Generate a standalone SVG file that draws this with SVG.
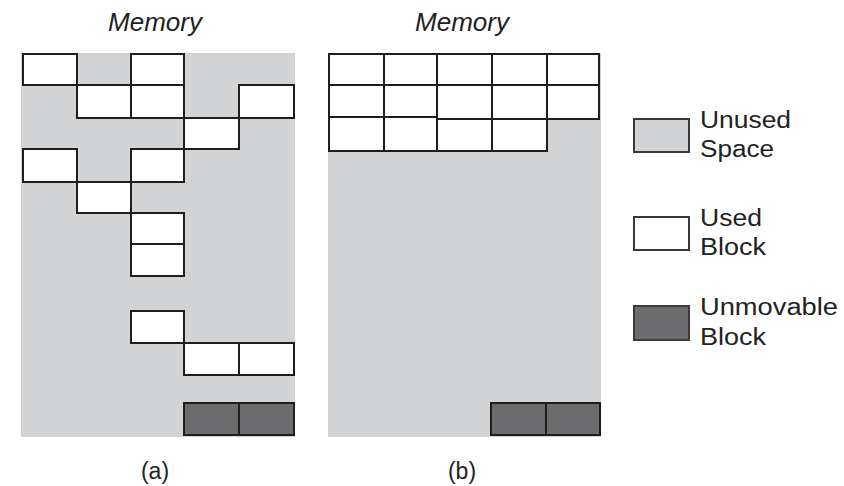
<svg xmlns="http://www.w3.org/2000/svg" width="844" height="486" viewBox="0 0 844 486">
  <style>
    .mem { fill: #d2d3d5; }
    .blk { fill: #ffffff; stroke: #1e1e1e; stroke-width: 2; }
    .fix { fill: #6c6c6f; stroke: #1e1e1e; stroke-width: 2; }
    .key { stroke: #3a3a3a; stroke-width: 2; }
    .title { font-family: "Liberation Sans", Arial, sans-serif; font-style: italic; font-size: 25px; fill: #222; text-anchor: middle; }
    .cap { font-family: "Liberation Sans", Arial, sans-serif; font-size: 23px; fill: #222; text-anchor: middle; }
    .lbl { font-family: "Liberation Sans", Arial, sans-serif; font-size: 23px; fill: #222; }
  </style>
  <rect width="844" height="486" fill="#ffffff"/>

  <!-- (a) fragmented memory -->
  <g id="panel-a">
    <text class="title" x="155" y="31" textLength="94" lengthAdjust="spacingAndGlyphs">Memory</text>
    <rect class="mem" x="21" y="53" width="274" height="384"/>
    <g id="a-used">
      <rect class="blk" x="23" y="54" width="54" height="31"/>
      <rect class="blk" x="131" y="54" width="53" height="31"/>
      <rect class="blk" x="77" y="85" width="54" height="33"/>
      <rect class="blk" x="131" y="85" width="53" height="33"/>
      <rect class="blk" x="239" y="85" width="55" height="33"/>
      <rect class="blk" x="184" y="118" width="55" height="31"/>
      <rect class="blk" x="23" y="149" width="54" height="33"/>
      <rect class="blk" x="131" y="149" width="53" height="33"/>
      <rect class="blk" x="77" y="182" width="54" height="31"/>
      <rect class="blk" x="131" y="213" width="53" height="31"/>
      <rect class="blk" x="131" y="244" width="53" height="32"/>
      <rect class="blk" x="131" y="311" width="53" height="32"/>
      <rect class="blk" x="184" y="343" width="55" height="32"/>
      <rect class="blk" x="239" y="343" width="55" height="32"/>
    </g>
    <g id="a-fixed">
      <rect class="fix" x="184" y="403" width="55" height="32"/>
      <rect class="fix" x="239" y="403" width="55" height="32"/>
    </g>
    <text class="cap" x="155" y="479">(a)</text>
  </g>

  <!-- (b) compacted memory -->
  <g id="panel-b">
    <text class="title" x="462" y="31" textLength="94" lengthAdjust="spacingAndGlyphs">Memory</text>
    <rect class="mem" x="328" y="53" width="273" height="384"/>
    <g id="b-used">
      <rect class="blk" x="329" y="54" width="55" height="31"/>
      <rect class="blk" x="384" y="54" width="53" height="31"/>
      <rect class="blk" x="437" y="54" width="55" height="31"/>
      <rect class="blk" x="492" y="54" width="55" height="31"/>
      <rect class="blk" x="547" y="54" width="52" height="31"/>
      <rect class="blk" x="329" y="85" width="55" height="32"/>
      <rect class="blk" x="384" y="85" width="53" height="32"/>
      <rect class="blk" x="437" y="85" width="55" height="34"/>
      <rect class="blk" x="492" y="85" width="55" height="34"/>
      <rect class="blk" x="547" y="85" width="52" height="34"/>
      <rect class="blk" x="329" y="117" width="55" height="34"/>
      <rect class="blk" x="384" y="117" width="53" height="34"/>
      <rect class="blk" x="437" y="119" width="55" height="32"/>
      <rect class="blk" x="492" y="119" width="55" height="32"/>
    </g>
    <g id="b-fixed">
      <rect class="fix" x="491" y="403" width="55" height="32"/>
      <rect class="fix" x="546" y="403" width="54" height="32"/>
    </g>
    <text class="cap" x="462" y="479">(b)</text>
  </g>

  <!-- key -->
  <g id="legend-unused">
    <rect class="key" x="634" y="119" width="55" height="33" fill="#d2d3d5"/>
    <text class="lbl" x="700" y="128" textLength="91" lengthAdjust="spacingAndGlyphs">Unused</text>
    <text class="lbl" x="700" y="157" textLength="74" lengthAdjust="spacingAndGlyphs">Space</text>
  </g>
  <g id="legend-used">
    <rect class="key" x="634" y="217" width="55" height="33" fill="#ffffff"/>
    <text class="lbl" x="700" y="226" textLength="62" lengthAdjust="spacingAndGlyphs">Used</text>
    <text class="lbl" x="700" y="255" textLength="66" lengthAdjust="spacingAndGlyphs">Block</text>
  </g>
  <g id="legend-fixed">
    <rect class="key" x="634" y="306" width="55" height="34" fill="#6c6c6f"/>
    <text class="lbl" x="700" y="315" textLength="138" lengthAdjust="spacingAndGlyphs">Unmovable</text>
    <text class="lbl" x="700" y="345" textLength="66" lengthAdjust="spacingAndGlyphs">Block</text>
  </g>
</svg>
